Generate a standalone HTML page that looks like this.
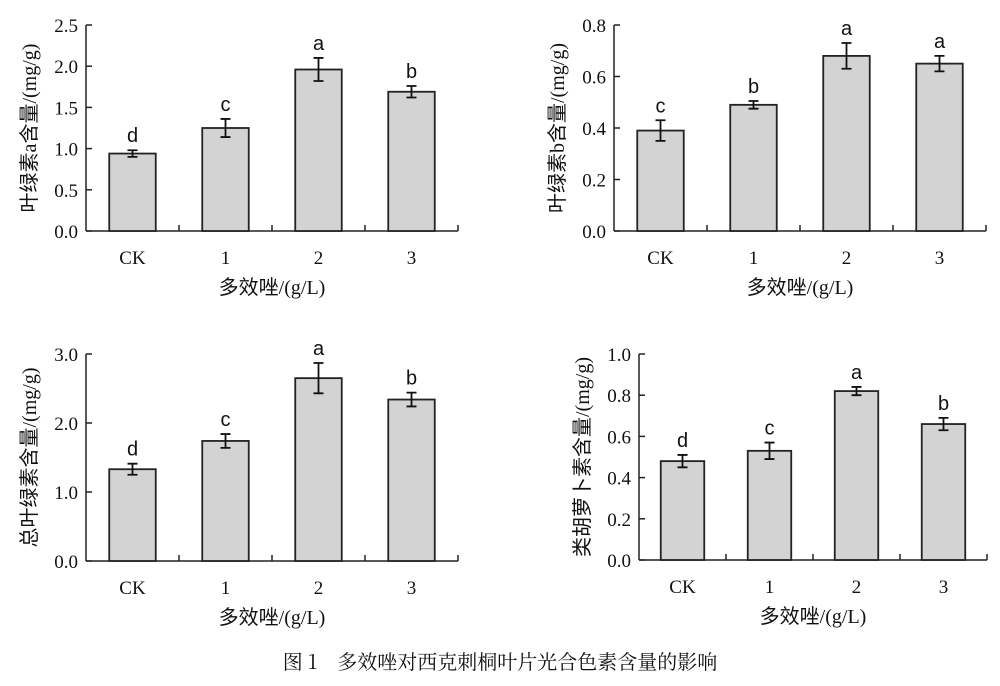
<!DOCTYPE html>
<html><head><meta charset="utf-8"><style>
body{margin:0;background:#fff;}
svg text{fill:#111;}
.tk{font:19px "Liberation Serif","Noto Serif CJK SC",serif;}
.lt{font:20px "Liberation Sans","Noto Sans CJK SC",sans-serif;}
.ti{font:20px "Liberation Serif","Noto Sans CJK SC",sans-serif;}
</style></head><body>
<svg id="s" width="1000" height="681" xmlns="http://www.w3.org/2000/svg">
<text x="500" y="669" text-anchor="middle" style="font:20px 'Noto Serif CJK SC',serif">图 1　多效唑对西克刺桐叶片光合色素含量的影响</text>
</svg>
<script>
const categories=["CK","1","2","3"];
const valsA=[0.94,1.25,1.96,1.69], errA=[0.04,0.11,0.14,0.07], letA=["d","c","a","b"];
const valsB=[0.39,0.49,0.68,0.65], errB=[0.04,0.015,0.05,0.03], letB=["c","b","a","a"];
const valsT=[1.33,1.74,2.65,2.34], errT=[0.08,0.10,0.22,0.10], letT=["d","c","a","b"];
const valsC=[0.48,0.53,0.82,0.66], errC=[0.03,0.04,0.02,0.03], letC=["d","c","a","b"];
const ticksA=["0.0","0.5","1.0","1.5","2.0","2.5"];
const ticksB=["0.0","0.2","0.4","0.6","0.8"];
const ticksT=["0.0","1.0","2.0","3.0"];
const ticksC=["0.0","0.2","0.4","0.6","0.8","1.0"];
const svg=document.getElementById('s');const NS='http://www.w3.org/2000/svg';
function mk(t,a,p){const e=document.createElementNS(NS,t);for(const k in a)e.setAttribute(k,a[k]);(p||svg).appendChild(e);return e;}
function panel(id,L,T,B,cw,ticks,vals,errs,lets,ytitle){
 const g=mk('g',{});
 
 
 const max=parseFloat(ticks[ticks.length-1]);
 const y=v=>B-(v/max)*(B-T);
 const R=L+cw*categories.length;
 mk('line',{x1:L,y1:T,x2:L,y2:B,stroke:'#222','stroke-width':1.5},g);
 mk('line',{x1:L,y1:B,x2:R,y2:B,stroke:'#222','stroke-width':1.5},g);
 ticks.forEach(t=>{const v=parseFloat(t),yy=y(v);
  mk('line',{x1:L,y1:yy,x2:L+6,y2:yy,stroke:'#222','stroke-width':1.5},g);
  const tx=mk('text',{x:L-8,y:yy+7,'text-anchor':'end',class:'tk'},g);tx.textContent=t;
  
  });
 categories.forEach((c,i)=>{
  const cx=L+cw*(i+0.5),bw=cw*0.5;
  mk('line',{x1:L+cw*(i+1),y1:B,x2:L+cw*(i+1),y2:B-6,stroke:'#222','stroke-width':1.5},g);
  const r=mk('rect',{x:cx-bw/2,y:y(vals[i]),width:bw,height:B-y(vals[i]),fill:'#d3d3d3',stroke:'#222','stroke-width':1.8},g);
  
  
  const y1=y(vals[i]+errs[i]),y2=y(vals[i]-errs[i]);
  mk('path',{d:`M${cx},${y1}V${y2}M${cx-5},${y1}H${cx+5}M${cx-5},${y2}H${cx+5}`,stroke:'#111','stroke-width':1.8,fill:'none'},g);
  const lt=mk('text',{x:cx,y:y1-8,'text-anchor':'middle',class:'lt'},g);lt.textContent=lets[i];
  
  
  const xl=mk('text',{x:cx,y:B+33,'text-anchor':'middle',class:'tk'},g);xl.textContent=c;
  
  
 });
 const xt=mk('text',{x:(L+R)/2,y:B+63,'text-anchor':'middle',class:'ti'},g);xt.textContent='多效唑/(g/L)';
 
 
 const yx=L-50,yc=(T+B)/2;
 const yt=mk('text',{x:yx,y:yc,'text-anchor':'middle',class:'ti',transform:`rotate(-90 ${yx} ${yc})`},g);yt.textContent=ytitle;
 
 
}
panel('chart-chlorophyll-a',86,25,231,93,ticksA,valsA,errA,letA,'叶绿素a含量/(mg/g)');
panel('chart-chlorophyll-b',614,25,231,93,ticksB,valsB,errB,letB,'叶绿素b含量/(mg/g)');
panel('chart-total-chlorophyll',86,354,561,93,ticksT,valsT,errT,letT,'总叶绿素含量/(mg/g)');
panel('chart-carotenoid',639,354,560,87,ticksC,valsC,errC,letC,'类胡萝卜素含量/(mg/g)');
</script>
</body></html>
